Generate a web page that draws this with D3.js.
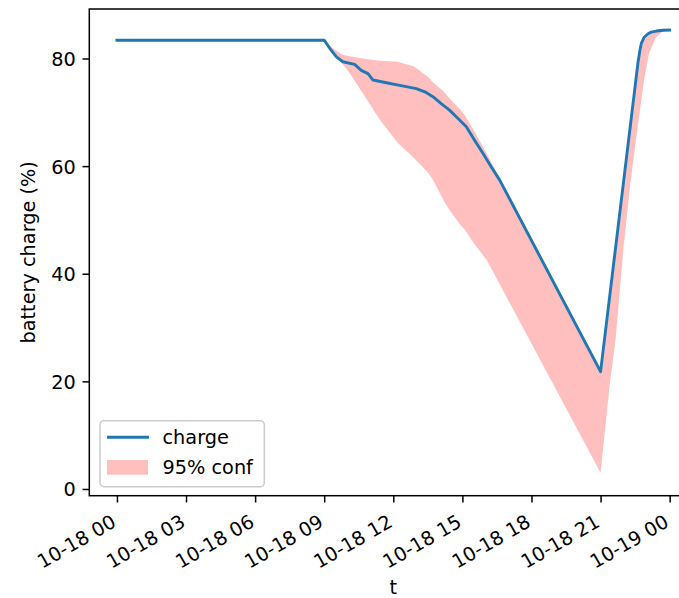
<!DOCTYPE html>
<html>
<head>
<meta charset="utf-8">
<script src="https://cdn.jsdelivr.net/npm/d3@7"></script>
<style>
  html, body { margin: 0; padding: 0; background: #fff; }
  svg { display: block; font-family: "DejaVu Sans", sans-serif; }
</style>
</head>
<body>
<svg id="chart" width="679" height="598"></svg>
<script>
// ---- data (hours after 2023-10-18 00:00) ----
const chargeHours = [0, 9.0, 9.1, 9.24, 9.53, 9.81, 10.32, 10.61, 10.90, 11.12, 11.70, 12.28, 13.0, 13.37, 13.72, 14.08, 14.44, 14.8, 15.17, 15.53, 15.89, 16.25, 16.62, 21.0, 22.62, 22.70, 22.77, 22.9, 23.06, 23.2, 23.42, 23.7, 24.0];
const chargeValues = [83.4, 83.4, 82.8, 81.9, 80.3, 79.4, 78.9, 77.8, 77.2, 76.0, 75.5, 75.0, 74.4, 73.8, 72.9, 71.6, 70.4, 68.9, 67.3, 64.8, 62.4, 59.9, 57.4, 21.8, 79.1, 81.3, 82.8, 84.0, 84.6, 84.9, 85.1, 85.25, 85.3];

const confHours = [9.0, 9.4, 9.8, 10.1, 10.8, 11.4, 12.2, 12.9, 13.5, 13.7, 14.2, 14.4, 14.9, 15.1, 15.5, 16.05, 21.0, 21.4, 21.65, 22.0, 22.3, 22.6, 22.9, 23.1, 23.4, 23.7, 24.0];
const confUpper = [83.4, 81.8, 80.7, 80.4, 79.9, 79.6, 79.4, 78.5, 76.6, 75.7, 73.8, 72.8, 70.5, 69.5, 66.6, 62.4, 22.3, 36.1, 45.0, 57.4, 68.0, 78.6, 84.0, 84.8, 85.2, 85.4, 85.5];
const confLower = [83.4, 80.9, 79.0, 77.3, 72.7, 68.7, 64.3, 61.5, 58.8, 57.6, 53.5, 52.1, 49.1, 48.2, 45.6, 42.6, 3.0, 19.5, 27.7, 45.0, 57.0, 67.0, 76.3, 80.9, 83.9, 85.0, 85.2];

const xTickHours = [0, 3, 6, 9, 12, 15, 18, 21, 24];
const yTicks = [0, 20, 40, 60, 80];
const seriesLabels = ["charge", "95% conf"];
const xLabel = "t";
const yLabel = "battery charge (%)";

// ---- setup ----
const base = Date.UTC(2023, 9, 18);
const toDate = h => new Date(base + h * 3600 * 1000);
const fontSize = 19.3;

const svg = d3.select("#chart");
const pL = 89.3, pR = 697.3, pT = 9, pB = 495.7;

const x = d3.scaleUtc().domain([toDate(-1.2), toDate(25.2)]).range([pL, pR]);
const y = d3.scaleLinear().domain([-1.25, 89.2]).range([pB, pT]);

svg.append("defs").append("clipPath").attr("id", "clip")
  .append("rect").attr("x", pL).attr("y", pT).attr("width", pR - pL).attr("height", pB - pT);

const plot = svg.append("g").attr("clip-path", "url(#clip)");

// confidence band
const band = confHours.map((h, i) => ({ t: toDate(h), lo: confLower[i], hi: confUpper[i] }));
plot.append("path")
  .datum(band)
  .attr("fill", "#ff0000")
  .attr("fill-opacity", 0.25)
  .attr("d", d3.area().x(d => x(d.t)).y0(d => y(d.lo)).y1(d => y(d.hi)));

// charge line
const line = chargeHours.map((h, i) => ({ t: toDate(h), v: chargeValues[i] }));
plot.append("path")
  .datum(line)
  .attr("fill", "none")
  .attr("stroke", "#1f77b4")
  .attr("stroke-width", 2.9)
  .attr("stroke-linejoin", "round")
  .attr("stroke-linecap", "square")
  .attr("d", d3.line().x(d => x(d.t)).y(d => y(d.v)));

// spines
svg.append("rect").attr("x", pL).attr("y", pT).attr("width", pR - pL).attr("height", pB - pT)
  .attr("fill", "none").attr("stroke", "#000").attr("stroke-width", 1.5);

// y axis
const yAxis = svg.append("g").attr("transform", `translate(${pL},0)`)
  .call(d3.axisLeft(y).tickValues(yTicks).tickSize(6.8).tickPadding(6.8).tickFormat(d3.format("d")));
yAxis.select(".domain").remove();
yAxis.selectAll(".tick line").attr("stroke", "#000").attr("stroke-width", 1.5);
yAxis.selectAll(".tick text").attr("font-size", fontSize).attr("fill", "#000")
  .attr("font-family", "DejaVu Sans").attr("dy", "0.36em");

// x axis
const fmt = d3.utcFormat("%m-%d %H");
const xAxis = svg.append("g").attr("transform", `translate(0,${pB})`)
  .call(d3.axisBottom(x).tickValues(xTickHours.map(toDate)).tickSize(6.8).tickFormat(fmt));
xAxis.select(".domain").remove();
xAxis.selectAll(".tick line").attr("stroke", "#000").attr("stroke-width", 1.5);
xAxis.selectAll(".tick text")
  .attr("font-size", fontSize).attr("fill", "#000").attr("font-family", "DejaVu Sans")
  .attr("text-anchor", "end")
  .attr("y", 0).attr("dy", 0)
  .attr("transform", "translate(0,30) rotate(-30)");

// axis labels
svg.append("text").attr("x", (pL + pR) / 2).attr("y", 594)
  .attr("text-anchor", "middle").attr("font-size", fontSize).attr("fill", "#000").text(xLabel);
svg.append("text").attr("transform", `translate(35,${(pT + pB) / 2}) rotate(-90)`)
  .attr("text-anchor", "middle").attr("font-size", fontSize).attr("fill", "#000").text(yLabel);

// legend
const lg = svg.append("g");
lg.append("rect").attr("x", 100).attr("y", 420.7).attr("width", 164.3).attr("height", 66)
  .attr("rx", 4).attr("fill", "#fff").attr("fill-opacity", 0.8)
  .attr("stroke", "#cccccc").attr("stroke-width", 1.5);
lg.append("line").attr("x1", 107).attr("x2", 149).attr("y1", 437.3).attr("y2", 437.3)
  .attr("stroke", "#1f77b4").attr("stroke-width", 2.9);
lg.append("rect").attr("x", 107).attr("y", 460).attr("width", 41).attr("height", 14.7)
  .attr("fill", "#ff0000").attr("fill-opacity", 0.25);
lg.selectAll("text.lbl").data(seriesLabels).enter().append("text")
  .attr("x", 162.5).attr("y", (d, i) => i === 0 ? 437.3 : 467.3).attr("dy", "0.36em")
  .attr("font-size", fontSize).attr("fill", "#000").text(d => d);
</script>
</body>
</html>
